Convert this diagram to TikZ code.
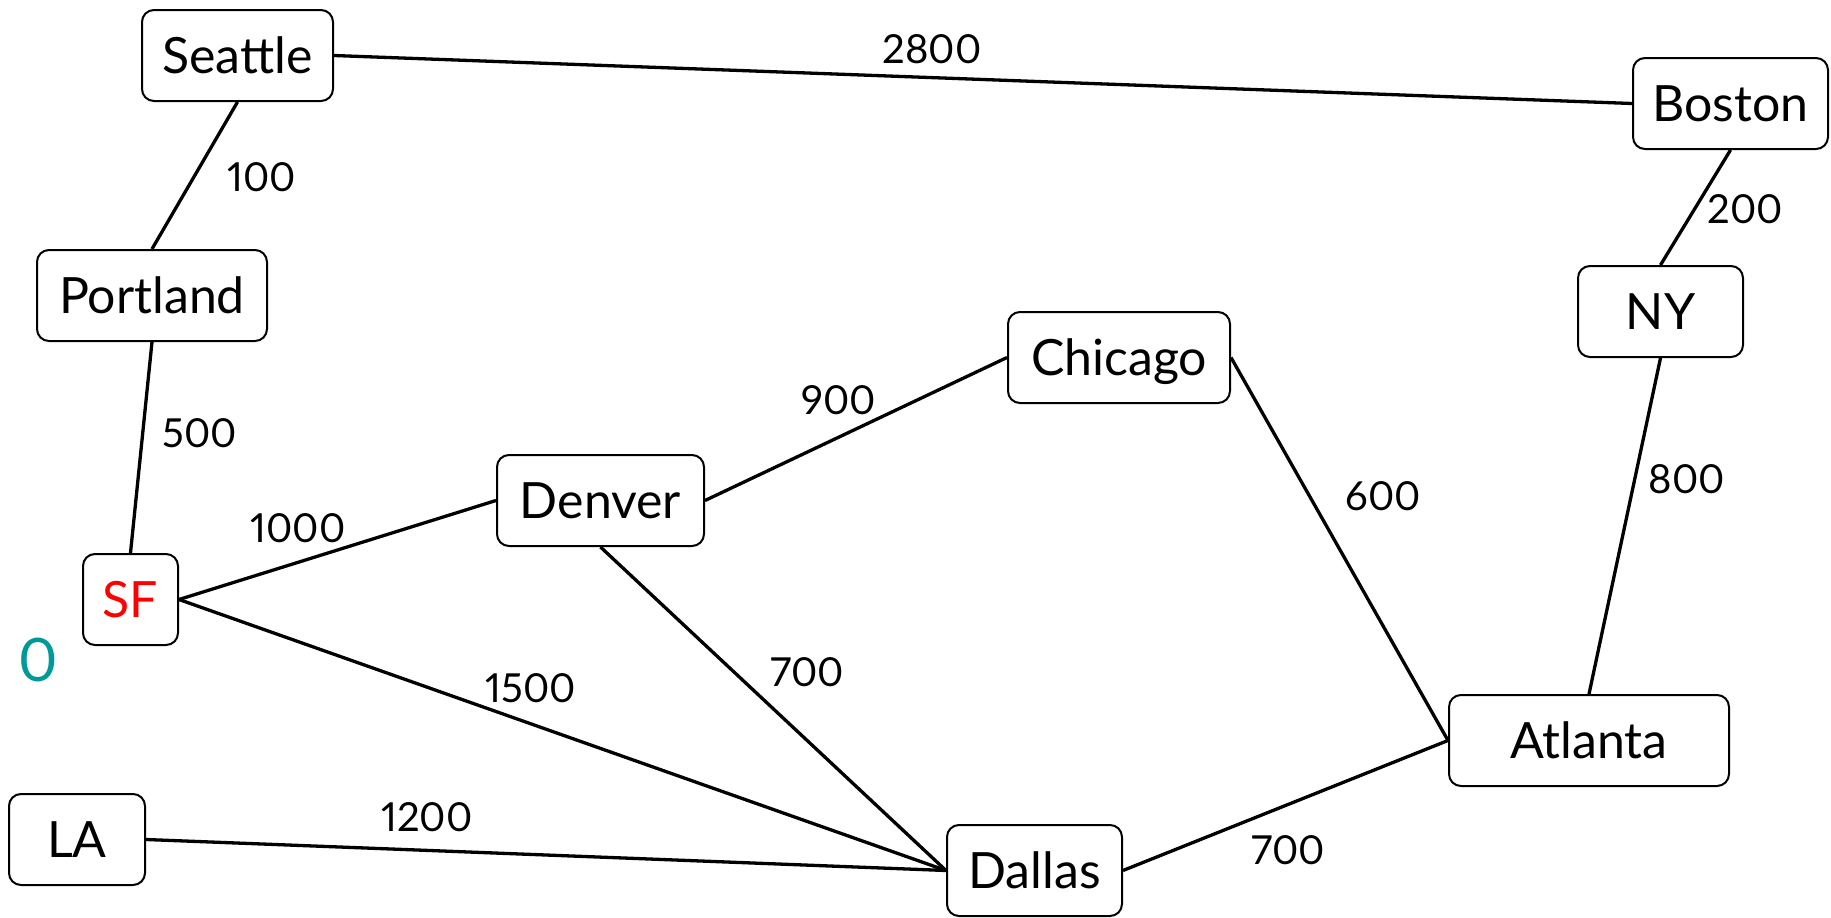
\documentclass[tikz,border=0pt]{standalone}
\usepackage{fontspec}
\setmainfont[Numbers=Proportional]{Lato}
\definecolor{zeroteal}{RGB}{0,153,153}
\begin{document}
\begin{tikzpicture}[x=1pt,y=-1pt,
  city/.style={draw, line width=2pt, rounded corners=12pt, minimum height=91pt,
    inner sep=0pt, font=\fontsize{50}{60}\selectfont, text height=36pt, text depth=0pt},
  wt/.style={font=\fontsize{40}{48}\selectfont, inner sep=0pt},
  road/.style={line width=3.3pt}]
\useasboundingbox (0,0) rectangle (1831,918);
\node[city, minimum width=191pt] (seattle)  at (237.5,55.5) {Seattle};
\node[city, minimum width=195pt] (boston)   at (1730.5,103.5) {Boston};
\node[city, minimum width=230pt] (portland) at (152,295.5) {Portland};
\node[city, minimum width=165pt] (ny)       at (1660.5,311.5) {NY};
\node[city, minimum width=222pt] (chicago)  at (1119,357.5) {Chicago};
\node[city, minimum width=207pt] (denver)   at (600.5,500.5) {Denver};
\node[city, minimum width=95pt, text=red] (sf) at (130.5,599.5) {SF};
\node[city, minimum width=280pt] (atlanta)  at (1589,740.5) {Atlanta};
\node[city, minimum width=136pt] (la)       at (77,839.5) {LA};
\node[city, minimum width=175pt] (dallas)   at (1034.5,870.5) {Dallas};

\draw[road] (seattle.east) -- (boston.west);
\draw[road] (seattle.south) -- (portland.north);
\draw[road] (portland.south) -- (sf.north);
\draw[road] (sf.east) -- (denver.west);
\draw[road] (sf.east) -- (dallas.west);
\draw[road] (la.east) -- (dallas.west);
\draw[road] (denver.south) -- (dallas.west);
\draw[road] (denver.east) -- (chicago.west);
\draw[road] (chicago.east) -- (atlanta.west);
\draw[road] (dallas.east) -- (atlanta.west);
\draw[road] (boston.south) -- (ny.north);
\draw[road] (ny.south) -- (atlanta.north);

\node[wt] (w2800) at (932,49) {2800};
\node[wt] (w100)  at (262,177) {100};
\node[wt] (w500)  at (200,433) {500};
\node[wt] (w1000) at (298,528) {1000};
\node[wt] (w900)  at (839,400) {900};
\node[wt] (w600)  at (1383,496) {600};
\node[wt] (w800)  at (1687,479) {800};
\node[wt] (w200)  at (1745,209) {200};
\node[wt] (w1500) at (531,688) {1500};
\node[wt] (w700a) at (807,672) {700};
\node[wt] (w1200) at (427,817) {1200};
\node[wt] (w700b) at (1288,850) {700};
\node[font=\fontsize{60}{70}\selectfont, inner sep=0pt, text=zeroteal] (dist) at (38,660) {0};
\end{tikzpicture}
\end{document}
